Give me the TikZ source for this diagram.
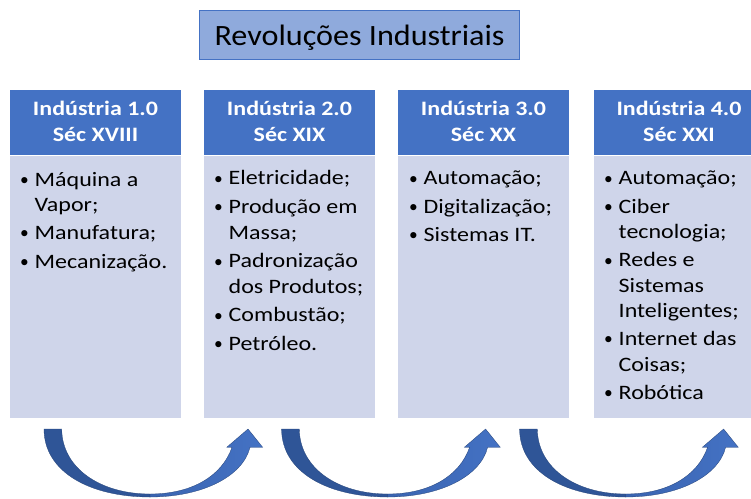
\documentclass[tikz,border=0pt]{standalone}
\usepackage{fontspec}
\setmainfont{Carlito}[FakeStretch=1.17]
\newfontfamily\titlefont{Carlito}[FakeStretch=1.09]
\newfontfamily\bulfont{Carlito}
\definecolor{hdrblue}{HTML}{4472C4}
\definecolor{bodyblue}{HTML}{CFD5EA}
\definecolor{titleblue}{HTML}{8FAADC}
\definecolor{darkarrow}{HTML}{2F5597}
\definecolor{midarrow}{HTML}{3A64B0}
\tikzset{
  x=1pt, y=-1pt,
  hdrbox/.style={draw=white, line width=0.6pt, fill=hdrblue},
  bodybox/.style={draw=white, line width=0.6pt, fill=bodyblue},
  hdrtext/.style={anchor=north, inner sep=0pt, text=white, font=\fontsize{20.5}{26}\selectfont\bfseries},
  bodytext/.style={anchor=north west, inner sep=0pt, font=\fontsize{20.5}{25.3}\selectfont},
  titlebox/.style={draw=hdrblue, line width=1.3pt, fill=titleblue, minimum width=320pt, minimum height=48.5pt, inner sep=0pt, text height=20pt, text depth=0pt, font=\titlefont\fontsize{29.5}{32}\selectfont},
  arrowdark/.style={fill=darkarrow, draw=darkarrow!80!black, line width=0.3pt},
  arrowlight/.style={left color=midarrow, right color=hdrblue, draw=darkarrow!80!black, line width=0.3pt},
}
\newcommand{\bul}{\makebox[14.5pt][l]{\raisebox{0.8pt}{\bulfont\scalebox{0.85}{•}}}}
\newcommand{\cnt}{\hspace*{14.5pt}}
\begin{document}
\begin{tikzpicture}
\useasboundingbox (0,0) rectangle (751,498);
\clip (0,0) rectangle (751,498);
\fill[white] (0,0) rectangle (751,498);

% title
\node[titlebox] (title) at (359.6,35) {Revoluções Industriais};

% boxes
\foreach \i/\xl in {1/9.5, 2/203.5, 3/397.5, 4/593}{
  \path[hdrbox] (\xl,89) rectangle ++(172,66.5) coordinate (h\i);
  \path[bodybox] (\xl,155.5) rectangle ++(172,263) coordinate (b\i);
}

% headers
\node[hdrtext] (t1) at (95.5,97.3) {\begin{tabular}{@{}c@{}}Indústria 1.0\\Séc XVIII\end{tabular}};
\node[hdrtext] (t2) at (289.5,97.3) {\begin{tabular}{@{}c@{}}Indústria 2.0\\Séc XIX\end{tabular}};
\node[hdrtext] (t3) at (483.5,97.3) {\begin{tabular}{@{}c@{}}Indústria 3.0\\Séc XX\end{tabular}};
\node[hdrtext] (t4) at (679,97.3) {\begin{tabular}{@{}c@{}}Indústria 4.0\\Séc XXI\end{tabular}};

% bodies
\node[bodytext] (l1) at (20,168.2) {\begin{tabular}{@{}l@{}}
\bul Máquina a\\
\cnt Vapor;\\[3pt]
\bul Manufatura;\\[3pt]
\bul Mecanização.
\end{tabular}};
\node[bodytext] (l2) at (214,167) {\begin{tabular}{@{}l@{}}
\bul Eletricidade;\\[3.5pt]
\bul Produção em\\
\cnt Massa;\\[3.5pt]
\bul Padronização\\
\cnt dos Produtos;\\[3.5pt]
\bul Combustão;\\[3.5pt]
\bul Petróleo.
\end{tabular}};
\node[bodytext] (l3) at (409,167) {\begin{tabular}{@{}l@{}}
\bul Automação;\\[3pt]
\bul Digitalização;\\[3pt]
\bul Sistemas IT.
\end{tabular}};
\node[bodytext] (l4) at (604,167) {\begin{tabular}{@{}l@{}}
\bul Automação;\\[3pt]
\bul Ciber\\
\cnt tecnologia;\\[3pt]
\bul Redes e\\
\cnt Sistemas\\
\cnt Inteligentes;\\[3pt]
\bul Internet das\\
\cnt Coisas;\\[3pt]
\bul Robótica
\end{tabular}};

% curved arrows
\foreach \k/\dx in {1/0, 2/237.6, 3/475.6}{
  \begin{scope}[xshift=\dx]
    \path[arrowdark] (44,429) -- (61.7,429)
      .. controls (62,468) and (100,494) .. (150,494)
      -- (150,497)
      .. controls (90,497) and (44,472) .. (44,429) -- cycle;
    \path[arrowlight] (150,497)
      .. controls (203,497) and (243,476) .. (250,447.3)
      -- (262.7,447.3) -- (248,429) -- (226.7,447.3) -- (232,447.3)
      .. controls (222,476) and (192,494) .. (150,494) -- cycle;
  \end{scope}
}
\end{tikzpicture}
\end{document}
